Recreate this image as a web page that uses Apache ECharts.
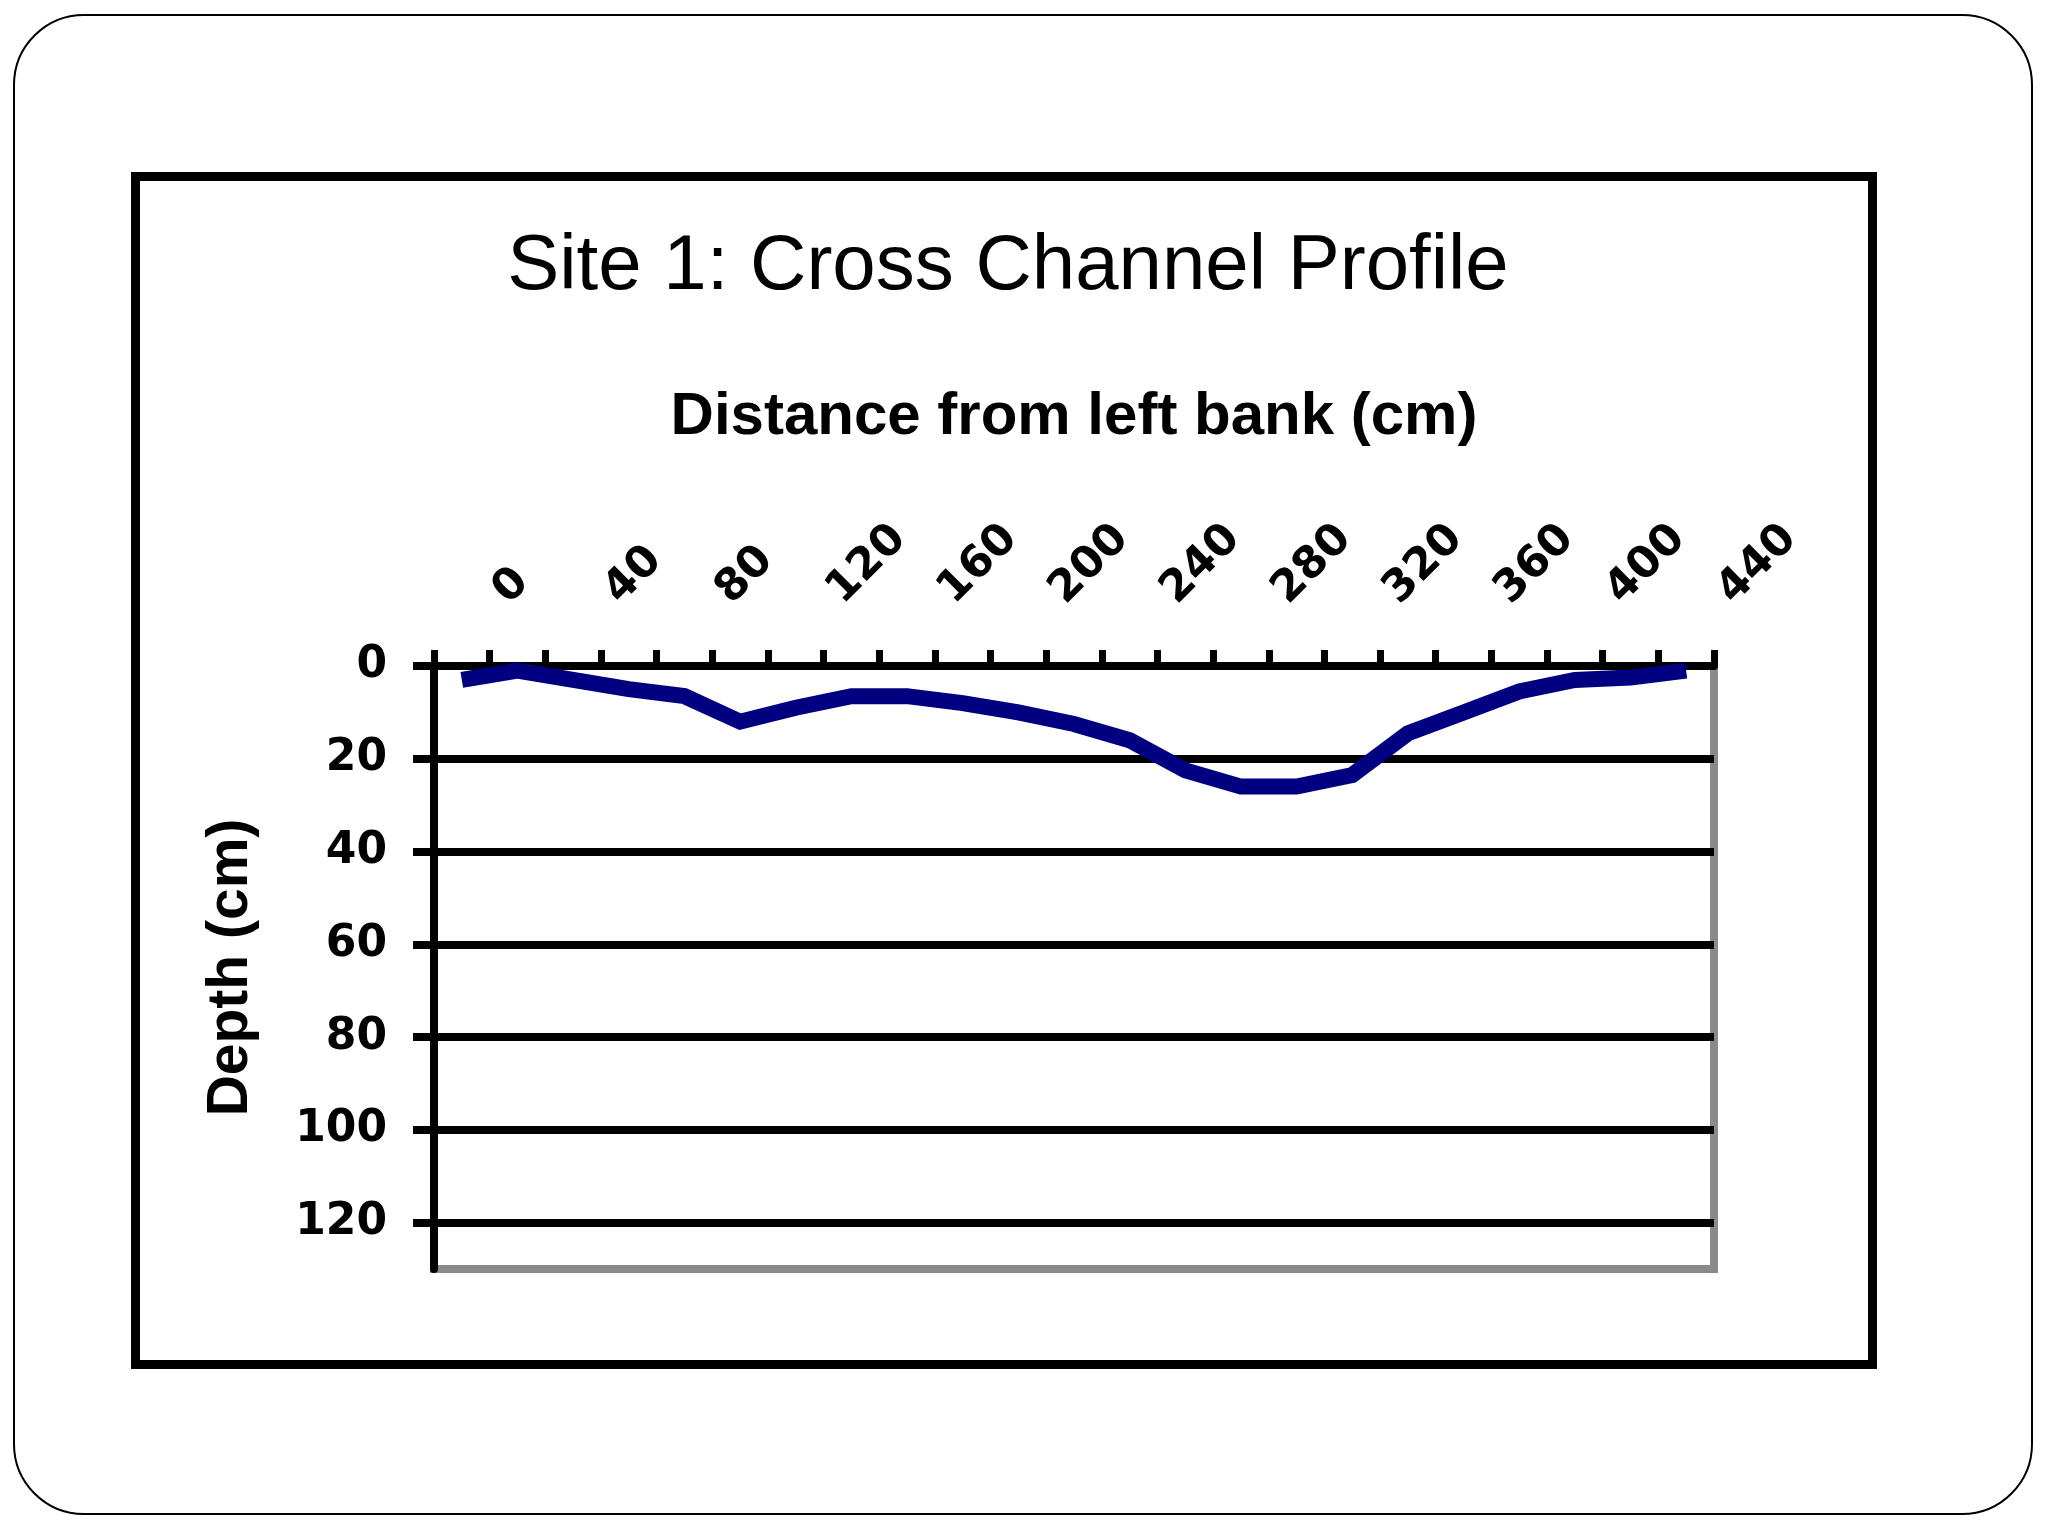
<!DOCTYPE html>
<html>
<head>
<meta charset="utf-8">
<script src="https://cdn.jsdelivr.net/npm/echarts@6/dist/echarts.min.js"></script>
<style>
  html, body { margin: 0; padding: 0; background: #fff; }
  #chart { width: 2048px; height: 1536px; }
</style>
</head>
<body>
<div id="chart"></div>
<script>
// ---- data ----
const titleText = 'Site 1: Cross Channel Profile';
const xAxisTitle = 'Distance from left bank (cm)';
const yAxisTitle = 'Depth (cm)';
const distances = ['0','20','40','60','80','100','120','140','160','180','200','220',
                   '240','260','280','300','320','340','360','380','400','420','440'];
const depths = [3, 1, 3, 5, 6.5, 12, 9, 6.5, 6.5, 8, 10, 12.5,
                16, 22.5, 26, 26, 23.5, 14.5, 10, 5.5, 3, 2.5, 1];
const depthTicks = [0, 20, 40, 60, 80, 100, 120];
const depthMax = 130;

const chart = echarts.init(document.getElementById('chart'), null, { renderer: 'canvas' });

const labelFont = { fontFamily: 'DejaVu Sans', fontWeight: 'bold', fontSize: 44, color: '#000' };

chart.setOption({
  animation: false,
  backgroundColor: '#ffffff',
  title: {
    text: titleText,
    left: 1008,
    top: 228,
    textAlign: 'center',
    padding: 0,
    textStyle: { fontFamily: 'Liberation Sans', fontWeight: 'normal', fontSize: 78, color: '#000' }
  },
  graphic: [
    { type: 'rect', z: -10, shape: { x: 14, y: 15, width: 2018, height: 1499, r: 70 },
      style: { fill: 'none', stroke: '#000', lineWidth: 2 } },
    { type: 'rect', z: -10, shape: { x: 135.5, y: 176.5, width: 1737, height: 1188 },
      style: { fill: 'none', stroke: '#000', lineWidth: 9 } }
  ],
  grid: {
    left: 434, top: 666, width: 1280, height: 603,
    containLabel: false,
    outerBoundsMode: 'none',
    show: true,
    backgroundColor: 'transparent',
    borderColor: '#8a8a8a',
    borderWidth: 8
  },
  xAxis: {
    type: 'category',
    position: 'top',
    data: distances,
    boundaryGap: true,
    name: xAxisTitle,
    nameLocation: 'middle',
    nameGap: 219,
    nameMoveOverlap: false,
    nameTextStyle: { fontFamily: 'Liberation Sans', fontWeight: 'bold', fontSize: 60, color: '#000' },
    axisLine: { show: true, lineStyle: { color: '#000', width: 8 } },
    axisTick: { show: true, interval: 0, length: 16, lineStyle: { color: '#000', width: 7 } },
    axisLabel: Object.assign({
      interval: 1,
      rotate: 45,
      margin: 30,
      padding: [0, 0, 0, 55],
      hideOverlap: false
    }, labelFont),
    splitLine: { show: false }
  },
  yAxis: {
    type: 'value',
    inverse: true,
    min: 0,
    max: depthMax,
    interval: 20,
    name: yAxisTitle,
    nameLocation: 'middle',
    nameRotate: 90,
    nameGap: 174,
    nameMoveOverlap: false,
    nameTextStyle: { fontFamily: 'Liberation Sans', fontWeight: 'bold', fontSize: 57, color: '#000' },
    axisLine: { show: true, lineStyle: { color: '#000', width: 8 } },
    axisTick: { show: true, length: 21, customValues: depthTicks, lineStyle: { color: '#000', width: 8 } },
    axisLabel: Object.assign({ margin: 47, customValues: depthTicks }, labelFont),
    splitLine: { show: true, lineStyle: { color: '#000', width: 8 } }
  },
  series: [{
    type: 'line',
    data: depths,
    showSymbol: false,
    symbol: 'none',
    smooth: false,
    clip: false,
    z: 5,
    lineStyle: { color: '#000080', width: 16, cap: 'butt', join: 'miter' }
  }]
});
</script>
</body>
</html>
